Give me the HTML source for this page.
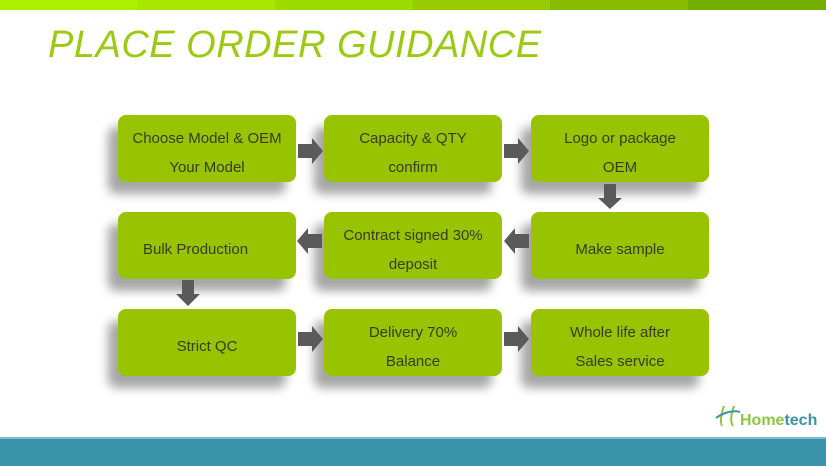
<!DOCTYPE html>
<html><head><style>
body{margin:0;width:826px;height:464px;position:relative;background:#fff;overflow:hidden;font-family:"Liberation Sans",sans-serif}
.bar{position:absolute;top:0;height:10px}
.t{position:absolute;left:48px;top:24px;font-family:"Comic Sans MS","Liberation Sans",sans-serif;font-style:italic;font-size:38px;color:#9acb10;letter-spacing:0.5px}
.b{position:absolute;box-sizing:border-box;width:178px;height:67px;padding-top:8px;background:#97c300;border-radius:8px;box-shadow:-10px 12px 10px rgba(0,0,0,0.35);display:flex;align-items:center;justify-content:center;text-align:center;color:#3b3b20;font-size:15px;line-height:29px}
.foot{position:absolute;left:0;top:437px;width:826px;height:27px;background:#3a93a8;border-top:2px solid #7bbccc}
</style></head><body>
<div class="bar" style="left:0;width:138px;background:#acef00"></div>
<div class="bar" style="left:138px;width:137px;background:#a7e600"></div>
<div class="bar" style="left:275px;width:138px;background:#9ddc00"></div>
<div class="bar" style="left:413px;width:137px;background:#97cc00"></div>
<div class="bar" style="left:550px;width:138px;background:#86bb00"></div>
<div class="bar" style="left:688px;width:138px;background:#72ae00"></div>
<div class="t">PLACE ORDER GUIDANCE</div>

<div class="b" style="left:118px;top:115px">Choose Model &amp; OEM<br>Your Model</div>
<div class="b" style="left:324px;top:115px">Capacity &amp; QTY<br>confirm</div>
<div class="b" style="left:531px;top:115px">Logo or package<br>OEM</div>
<div class="b" style="left:118px;top:212px;justify-content:flex-start;padding-left:25px">Bulk Production</div>
<div class="b" style="left:324px;top:212px">Contract signed 30%<br>deposit</div>
<div class="b" style="left:531px;top:212px">Make sample</div>
<div class="b" style="left:118px;top:309px">Strict QC</div>
<div class="b" style="left:324px;top:309px">Delivery 70%<br>Balance</div>
<div class="b" style="left:531px;top:309px">Whole life after<br>Sales service</div>

<svg width="826" height="464" style="position:absolute;left:0;top:0" fill="#5a5a5a">
<polygon points="298,144 312,144 312,138 323,151 312,164 312,158 298,158"/>
<polygon points="504,144 518,144 518,138 529,151 518,164 518,158 504,158"/>
<polygon points="604,184 616,184 616,198 622,198 610,209 598,198 604,198"/>
<polygon points="529,234 515,234 515,228 504,241 515,254 515,248 529,248"/>
<polygon points="322,234 308,234 308,228 297,241 308,254 308,248 322,248"/>
<polygon points="182,280 194,280 194,294 200,294 188,306 176,294 182,294"/>
<polygon points="298,332 312,332 312,326 323,339 312,352 312,346 298,346"/>
<polygon points="504,332 518,332 518,326 529,339 518,352 518,346 504,346"/>
<path d="M724 406 C721 414,720 422,722 426 M734 406 C731 414,730 422,733 426" stroke="#8dc63f" stroke-width="2" fill="none"/>
<path d="M716 418 C724 412,734 410,740 412" stroke="#3a93a8" stroke-width="2" fill="none"/>
<text x="740" y="425" font-family="Liberation Sans" font-weight="bold" font-size="16"><tspan fill="#8dc63f">Home</tspan><tspan fill="#3a93a8">tech</tspan></text>
</svg>
<div class="foot"></div>
</body></html>
